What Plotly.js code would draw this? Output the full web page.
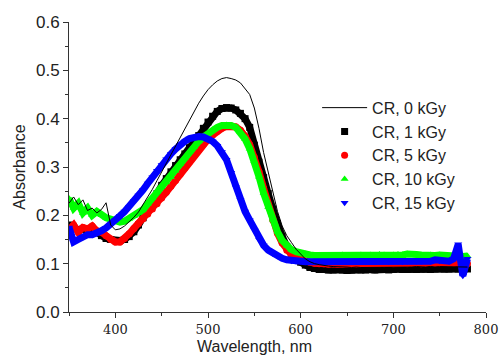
<!DOCTYPE html>
<html>
<head>
<meta charset="utf-8">
<script src="https://cdn.plot.ly/plotly-3.0.1.min.js"></script>
<style>html,body{margin:0;padding:0;background:#fff;}#chart{width:500px;height:356px;}</style>
</head>
<body>
<div id="chart"></div>
<script>
const wavelength = [
  350,355,360,365,370,375,380,385,390,395,
  400,405,410,415,420,425,430,435,440,445,
  450,455,460,465,470,475,480,485,490,495,
  500,505,510,515,520,525,530,535,540,545,
  550,555,560,565,570,575,580,585,590,595,
  600,605,610,615,620,
  625,630,635,640,645,650,655,660,665,670,
  675,680,685,690,695,700,705,710,715,720,
  725,730,735,740,745,750,755,760,765,770,
  775,780
];

const cr0kGy = [
  .225,.238,.222,.232,.210,.215,.205,.212,.226,.180,
  .170,.172,.178,.186,.196,.207,.222,.238,.254,.272,
  .290,.308,.326,.343,.360,.378,.398,.415,.432,.447,
  .460,.470,.478,.483,.485,.483,.480,.474,.463,.450,
  .422,.380,.330,.288,.246,.208,.178,.158,.144,.130,
  .120,.110,.104,.100,.098,
  .096,.095,.094,.094,.093,.093,.092,.093,.092,.092,
  .093,.092,.092,.093,.092,.093,.093,.092,.093,.093,
  .094,.093,.093,.094,.093,.094,.094,.093,.094,.094,
  .094,.093
];

const cr1kGy = [
  .180,.175,.170,.172,.168,.165,.165,.158,.152,.150,
  .148,.148,.150,.156,.166,.180,.195,.211,.228,.245,
  .262,.276,.290,.303,.315,.327,.340,.352,.365,.380,
  .393,.405,.415,.421,.423,.422,.418,.411,.400,.382,
  .345,.310,.278,.245,.213,.183,.157,.136,.120,.110,
  .103,.097,.092,.090,.088,
  .088,.087,.087,.088,.087,.086,.087,.088,.087,.087,
  .088,.087,.088,.088,.087,.088,.089,.088,.088,.089,
  .088,.089,.089,.088,.089,.090,.089,.089,.090,.089,
  .090,.089
];

const cr5kGy = [
  .170,.180,.165,.175,.172,.178,.168,.165,.158,.150,
  .145,.145,.152,.162,.173,.183,.193,.203,.213,.224,
  .236,.248,.260,.272,.285,.298,.311,.324,.336,.347,
  .357,.366,.374,.380,.384,.385,.383,.376,.364,.346,
  .320,.290,.256,.222,.190,.163,.143,.128,.118,.112,
  .108,.105,.103,.101,.100,
  .100,.099,.100,.099,.099,.100,.099,.100,.100,.099,
  .100,.101,.100,.100,.101,.100,.101,.101,.100,.101,
  .101,.100,.101,.102,.101,.101,.102,.101,.101,.102,
  .098,.100
];

const cr10kGy = [
  .235,.215,.225,.205,.215,.200,.208,.200,.195,.192,
  .188,.186,.188,.193,.198,.205,.212,.224,.236,.248,
  .259,.268,.279,.292,.306,.319,.331,.342,.353,.362,
  .370,.377,.382,.386,.387,.386,.382,.372,.358,.338,
  .312,.280,.246,.217,.191,.166,.148,.137,.129,.125,
  .122,.120,.118,.117,.117,
  .116,.117,.116,.117,.118,.117,.116,.117,.118,.117,
  .118,.117,.119,.118,.117,.118,.119,.118,.120,.118,
  .119,.118,.117,.118,.117,.118,.117,.116,.117,.116,
  .115,.116
];

const cr15kGy = [
  .175,.145,.150,.155,.160,.160,.163,.168,.174,.181,
  .190,.199,.208,.218,.229,.241,.253,.266,.279,.292,
  .304,.316,.327,.337,.346,.353,.359,.362,.363,.362,
  .359,.353,.344,.331,.315,.288,.258,.232,.208,.190,
  .170,.150,.138,.128,.121,.116,.111,.108,.106,.105,
  .105,.104,.104,.105,.104,
  .104,.105,.104,.104,.105,.104,.104,.105,.105,.104,
  .105,.104,.105,.105,.104,.105,.105,.104,.105,.106,
  .105,.105,.106,.105,.108,.106,.106,.105,.110,.140,
  .075,.110
];

const seriesNames = ['CR, 0 kGy','CR, 1 kGy','CR, 5 kGy','CR, 10 kGy','CR, 15 kGy'];
const xTickVals = [400,500,600,700,800];
const xMinorVals = [350,450,550,650,750];

const bands = [
  {name: seriesNames[1], y: cr1kGy, color: '#000000', symbol: 'square', rank: 2},
  {name: seriesNames[2], y: cr5kGy, color: '#ff0000', symbol: 'circle', rank: 3},
  {name: seriesNames[3], y: cr10kGy, color: '#00ff00', symbol: 'triangle-up', rank: 4},
  {name: seriesNames[4], y: cr15kGy, color: '#0000ff', symbol: 'triangle-down', rank: 5}
];

const traces = [];
bands.forEach(b => {
  traces.push({
    x: wavelength, y: b.y, type: 'scatter', mode: 'lines',
    line: {color: b.color, width: 7}, showlegend: false, hoverinfo: 'skip',
    legendgroup: b.name
  });
  traces.push({
    x: wavelength, y: b.y, type: 'scatter', mode: 'markers', name: b.name,
    marker: {color: b.color, symbol: b.symbol, size: 7, line: {width: 0}},
    legendgroup: b.name, legendrank: b.rank
  });
});
traces.push({
  x: wavelength, y: cr0kGy, type: 'scatter', mode: 'lines', name: seriesNames[0],
  line: {color: '#000000', width: 1}, legendrank: 1
});

const axisColor = '#333333';
const layout = {
  width: 500, height: 356,
  margin: {l: 69, r: 14, t: 22, b: 44},
  paper_bgcolor: '#ffffff', plot_bgcolor: '#ffffff',
  showlegend: true,
  xaxis: {
    range: [350, 800], tickvals: xTickVals, ticktext: xTickVals.map(String),
    ticks: 'outside', ticklen: 5, tickwidth: 1, tickcolor: axisColor,
    showline: true, linecolor: axisColor, linewidth: 1,
    showgrid: false, zeroline: false,
    tickfont: {family: 'DejaVu Serif', size: 13, color: '#222'},
    minor: {tickvals: xMinorVals, ticks: 'outside', ticklen: 3, tickcolor: axisColor, showgrid: false}
  },
  yaxis: {
    range: [0, 0.6], dtick: 0.1, tick0: 0, tickformat: '.1f',
    ticks: 'outside', ticklen: 5, tickwidth: 1, tickcolor: axisColor,
    showline: true, linecolor: axisColor, linewidth: 1,
    showgrid: false, zeroline: false,
    tickfont: {family: 'Liberation Sans', size: 17, color: '#222'},
    minor: {dtick: 0.05, ticks: 'outside', ticklen: 3, tickcolor: axisColor, showgrid: false},
    title: {text: 'Absorbance', font: {family: 'Liberation Sans', size: 16, color: '#222'}, standoff: 6}
  },
  legend: {
    x: 0.595, y: 0.763, xanchor: 'left', yanchor: 'top',
    bgcolor: 'rgba(0,0,0,0)', borderwidth: 0,
    font: {family: 'Liberation Sans', size: 16, color: '#222'},
    tracegroupgap: 0, itemwidth: 45
  },
  annotations: [{
    text: 'Wavelength, nm', xref: 'paper', yref: 'paper',
    x: 0.444, y: -0.12, xanchor: 'center', yanchor: 'middle',
    showarrow: false, font: {family: 'Liberation Sans', size: 16, color: '#222'}
  }]
};

Plotly.newPlot('chart', traces, layout, {staticPlot: true, displayModeBar: false});
</script>
</body>
</html>
